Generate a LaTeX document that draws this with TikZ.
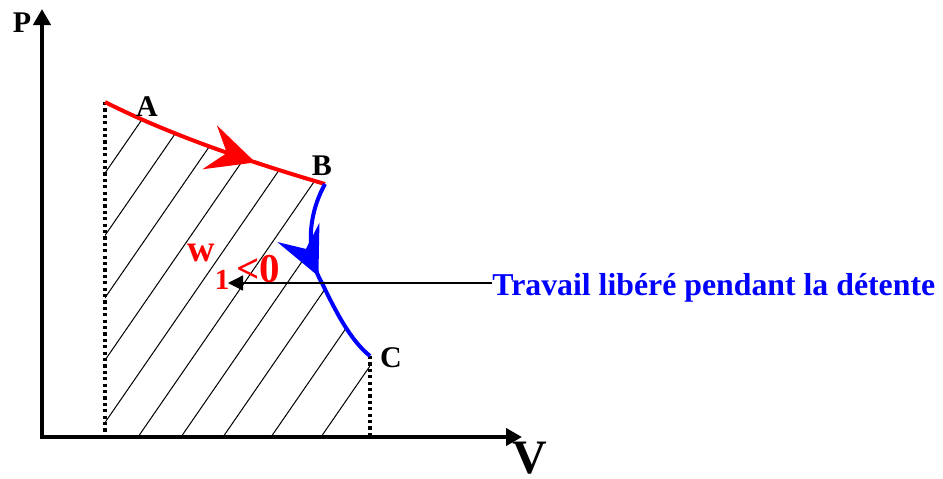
\documentclass[tikz,border=0pt]{standalone}
\usepackage{fontspec}
\setmainfont{Liberation Serif}
\usetikzlibrary{arrows.meta,decorations.markings,calc}

\tikzset{
  axis/.style={line width=2pt},
  guide/.style={line width=1.7pt, dash pattern=on 1.6pt off 1.6pt},
  hatch/.style={line width=0.5pt},
  curve/.style={line width=2pt},
  midarrow/.style={decoration={markings,
      mark=at position #1 with {\arrow{Stealth[length=24pt,width=23pt,inset=9pt]}}},
    postaction={decorate}},
  lbl/.style={font=\bfseries\fontsize{15}{18}\selectfont, inner sep=0pt}
}

\begin{document}
\begin{tikzpicture}[x=0.5pt, y=-0.5pt]
            \useasboundingbox (0,0) rectangle (943,478);

            % Points of the diagram
            \coordinate (O) at (42,437);
            \coordinate (Ptip) at (42,9);
            \coordinate (Vtip) at (522,437);
            \coordinate (A) at (105,102);
            \coordinate (B) at (325,184);
            \coordinate (Bm) at (322,283);
            \coordinate (C) at (370,356);
            \coordinate (Abase) at (105,437);
            \coordinate (Cbase) at (370,437);
            \coordinate (Wtip) at (228,283);

            % Hatched area under the path
            \begin{scope}
                \clip (Abase) -- (A) .. controls (170,135) and (250,162) .. (B)
                      .. controls (305,220) and (308,260) .. (Bm)
                      .. controls (335,310) and (350,340) .. (C) -- (Cbase) -- cycle;
                \foreach \c in {-77,-34,9,52,95,138,181,223,271,321}
                    \draw[hatch] (\c,437) -- ++(300,-435);
            \end{scope}

            % Axes
            \draw[axis, {Triangle[length=8pt,width=8.5pt]}-{Triangle[length=8pt,width=8.5pt]}]
                (Ptip) -- (O) -- (Vtip);
            \node[lbl] (Plabel) at (22,23) {P};
            \node[font=\bfseries\fontsize{24}{28}\selectfont, inner sep=0pt] (Vlabel) at (530,458) {V};

            % Dotted guides
            \draw[guide] (A) -- (Abase);
            \draw[guide] (C) -- (Cbase);

            % A -> B then B -> C
            \draw[curve, red, midarrow=0.69] (A) .. controls (170,135) and (250,162) .. (B);
            \draw[curve, blue, midarrow=0.5] (B) .. controls (305,220) and (308,260) .. (Bm)
                .. controls (335,310) and (350,340) .. (C);

            \node[lbl] (Alabel) at (147,107) {A};
            \node[lbl] (Blabel) at (322,166) {B};
            \node[lbl] (Clabel) at (391,358) {C};

            % Work label
            \node[red, font=\bfseries\fontsize{19}{22}\selectfont, inner sep=0pt] (w) at (201,253) {w};
            \node[red, font=\bfseries\fontsize{14.5}{17}\selectfont, inner sep=0pt] (w1) at (222,280) {1};
            \node[red, font=\bfseries\fontsize{20.5}{24}\selectfont, inner sep=0pt] (wneg) at (258,269) {<0};

            \node[blue, font=\bfseries\fontsize{15.9}{19}\selectfont, inner sep=0pt, anchor=base west]
                (travail) at (492,295) {Travail libéré pendant la détente};
            \draw[line width=0.65pt, -{Triangle[length=7.5pt,width=7.5pt]}] (travail.west |- Bm) -- (Wtip);
        \end{tikzpicture}
\end{document}
